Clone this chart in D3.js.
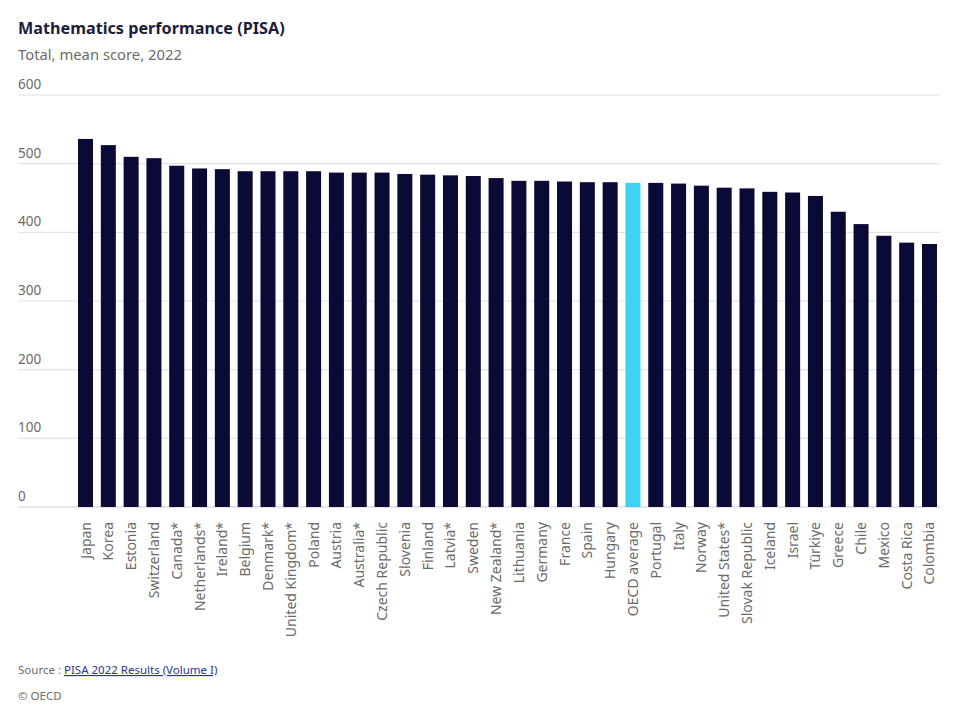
<!DOCTYPE html>
<html>
<head>
<meta charset="utf-8">
<script src="https://cdn.jsdelivr.net/npm/d3@7"></script>
<style>
  body { margin: 0; background: #fff; font-family: "Noto Sans", sans-serif; }
  .chart-title { font-size: 16.2px; font-weight: bold; fill: #1c1d3a; }
  .chart-subtitle { font-size: 14.8px; fill: #6b6b6b; }
  .tick-label { font-size: 13.5px; fill: #6b6b6b; }
  .x-label { font-size: 14px; fill: #6b6b6b; }
  .footnote { font-size: 11.5px; fill: #6b6b6b; }
  .source-link { fill: #2b2fa8; text-decoration: underline; }
</style>
</head>
<body>
<div id="chart-container"></div>
<script>
// Countries, in display order
const countries = ["Japan", "Korea", "Estonia", "Switzerland", "Canada*", "Netherlands*", "Ireland*",
  "Belgium", "Denmark*", "United Kingdom*", "Poland", "Austria", "Australia*", "Czech Republic",
  "Slovenia", "Finland", "Latvia*", "Sweden", "New Zealand*", "Lithuania", "Germany", "France",
  "Spain", "Hungary", "OECD average", "Portugal", "Italy", "Norway", "United States*",
  "Slovak Republic", "Iceland", "Israel", "Türkiye", "Greece", "Chile", "Mexico", "Costa Rica", "Colombia"];

// Mean mathematics score, 2022
const scores = [536, 527, 510, 508, 497, 493, 492, 489, 489, 489, 489, 487, 487, 487,
  485, 484, 483, 482, 479, 475, 475, 474, 473, 473, 472, 472, 471, 468, 465,
  464, 459, 458, 453, 430, 412, 395, 385, 383];

const yTicks = [0, 100, 200, 300, 400, 500, 600];

const data = countries.map((c, i) => ({ country: c, score: scores[i] }));

const width = 959, height = 720;

const svg = d3.select("#chart-container")
    .append("svg")
    .attr("width", width)
    .attr("height", height);

// Title and subtitle
svg.append("text")
    .attr("class", "chart-title")
    .attr("x", 18)
    .attr("y", 34)
    .text("Mathematics performance (PISA)");

svg.append("text")
    .attr("class", "chart-subtitle")
    .attr("x", 18)
    .attr("y", 60)
    .text("Total, mean score, 2022");

// Scales
const x = d3.scaleBand()
    .domain(countries)
    .range([78, 937])
    .paddingInner(0.342)
    .paddingOuter(0);

const y = d3.scaleLinear()
    .domain([0, 600])
    .range([507, 95]);

// Gridlines + tick labels
const grid = svg.append("g").attr("class", "grid");
grid.selectAll("line")
    .data(yTicks)
    .enter().append("line")
    .attr("x1", 18)
    .attr("x2", 940)
    .attr("y1", d => y(d))
    .attr("y2", d => y(d))
    .attr("stroke", d => d === 0 ? "#cfcfd4" : "#e2e2e6")
    .attr("stroke-width", 1.2);

grid.selectAll("text")
    .data(yTicks)
    .enter().append("text")
    .attr("class", "tick-label")
    .attr("x", 18)
    .attr("y", d => y(d) - 6)
    .text(d => d);

// Bars
svg.selectAll(".bar")
    .data(data)
    .enter().append("rect")
    .attr("class", "bar")
    .attr("x", d => x(d.country))
    .attr("width", x.bandwidth())
    .attr("y", d => y(d.score))
    .attr("height", d => y(0) - y(d.score))
    .attr("fill", d => d.country === "OECD average" ? "#3fd2f6" : "#0a0a36");

// Country labels, rotated
svg.selectAll(".x-label")
    .data(data)
    .enter().append("text")
    .attr("class", "x-label")
    .attr("text-anchor", "end")
    .attr("transform", d => "translate(" + (x(d.country) + x.bandwidth() / 2 + 5) + ",522) rotate(-90)")
    .text(d => d.country);

// Footnotes
const src = svg.append("text")
    .attr("class", "footnote")
    .attr("x", 18)
    .attr("y", 674);
src.append("tspan").text("Source : ");
src.append("tspan").attr("class", "source-link").text("PISA 2022 Results (Volume I)");

svg.append("text")
    .attr("class", "footnote")
    .attr("x", 18)
    .attr("y", 700)
    .text("© OECD");
</script>
</body>
</html>
